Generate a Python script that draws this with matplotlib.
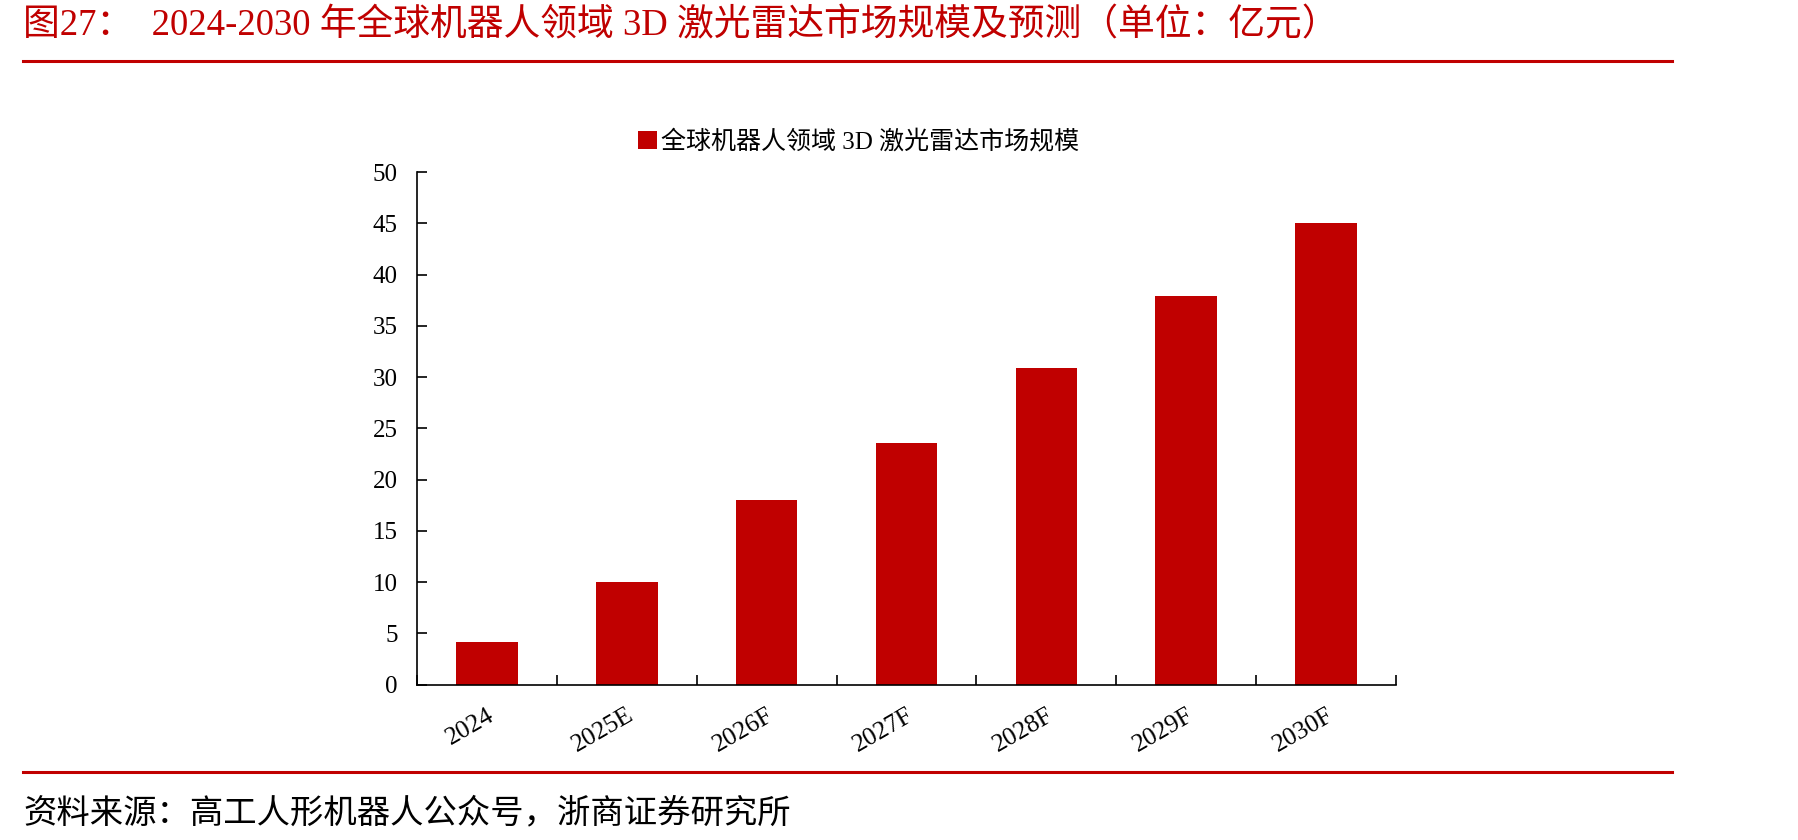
import matplotlib
matplotlib.use('Agg')
import matplotlib.pyplot as plt
from matplotlib.lines import Line2D
import numpy as np

plt.rcParams['font.family'] = ['Liberation Serif', 'Noto Sans CJK SC', 'DejaVu Sans']

# data (unit: 亿元)
years = ['2024', '2025E', '2026F', '2027F', '2028F', '2029F', '2030F']
market_size = [4.2, 10.0, 18.0, 23.6, 30.9, 37.9, 45.0]
series_name = '全球机器人领域 3D 激光雷达市场规模'
title = '图27：  2024-2030 年全球机器人领域 3D 激光雷达市场规模及预测（单位：亿元）'
source = '资料来源：高工人形机器人公众号，浙商证券研究所'

red = '#C00000'

fig = plt.figure(figsize=(17.98, 8.4), dpi=100)
ax = fig.add_axes([0.2319, 0.185, 0.5445, 0.6102])

x = np.arange(len(years))
ax.bar(x, market_size, width=0.44, color=red, label=series_name, zorder=2)

ax.set_xlim(-0.5, len(years) - 0.5)
ax.set_ylim(0, 50)
ax.set_yticks(np.arange(0, 51, 5))
ax.tick_params(axis='y', direction='in', length=7, width=1.2, pad=14, labelsize=18)

ax.set_xticks(x)
ax.set_xticklabels(years, rotation=30, ha='right', rotation_mode='anchor', fontsize=18.5)
ax.tick_params(axis='x', which='major', length=0, pad=14)
ax.set_xticks(np.arange(-0.5, len(years)), minor=True)
ax.tick_params(axis='x', which='minor', direction='in', length=7, width=1.2)

for s in ['top', 'right']:
    ax.spines[s].set_visible(False)
ax.spines['left'].set_linewidth(1.2)
ax.spines['bottom'].set_linewidth(1.2)

leg = fig.legend(loc='center left', bbox_to_anchor=(0.355, 0.831), frameon=False,
                 fontsize=18, handlelength=0.75, handleheight=0.75, handletextpad=0.15,
                 borderpad=0, borderaxespad=0)

# title, rules and source line
fig.text(0.0128, 0.969, title, color=red, fontsize=26.5, va='center', ha='left')
fig.add_artist(Line2D([0.0128, 0.93], [0.9276, 0.9276], color=red, lw=2.2))
fig.add_artist(Line2D([0.0128, 0.93], [0.0813, 0.0813], color=red, lw=2.2))
fig.text(0.0128, 0.031, source, color='black', fontsize=24, va='center', ha='left')

fig.savefig('out.png', dpi=100)
